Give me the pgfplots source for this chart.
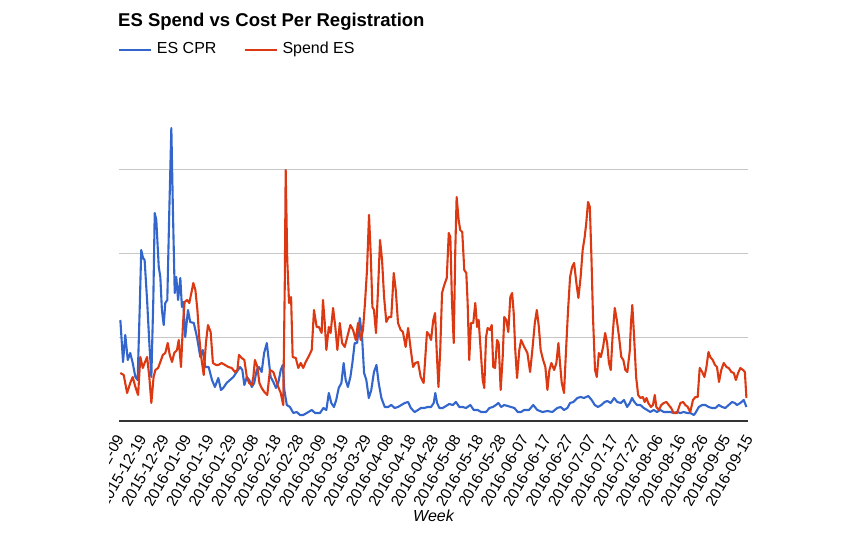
\documentclass[border=0pt]{standalone}
\usepackage{pgfplots}
\pgfplotsset{compat=1.18}
\usepackage{fontspec}
\setmainfont{Liberation Sans}
\definecolor{gblue}{HTML}{3366CC}
\definecolor{gred}{HTML}{DC3912}
\begin{document}
\begin{tikzpicture}
\useasboundingbox (0pt,0pt) rectangle (851pt,534pt);
\node[anchor=base west, inner sep=0pt, font=\fontsize{18.5}{22}\selectfont\bfseries] at (118pt,507pt) {ES Spend vs Cost Per Registration};
\begin{scope}
\clip (109.5pt,0pt) rectangle (851pt,534pt);
\begin{axis}[
  at={(119pt,113pt)}, anchor=south west,
  scale only axis, width=629pt, height=336pt,
  xmin=0, xmax=280, ymin=0, ymax=336,
  axis x line*=bottom, axis y line*=left,
  y axis line style={draw=none},
  x axis line style={draw=black!80, line width=1.3pt, -},
  ytick={84,168,252}, yticklabels={}, ymajorgrids,
  grid style={black!22, line width=0.9pt},
  major tick length=0pt,
  xtick={0,10,...,280},
  xticklabels={2015-12-09,2015-12-19,2015-12-29,2016-01-09,2016-01-19,2016-01-29,2016-02-08,2016-02-18,2016-02-28,2016-03-09,2016-03-19,2016-03-29,2016-04-08,2016-04-18,2016-04-28,2016-05-08,2016-05-18,2016-05-28,2016-06-07,2016-06-17,2016-06-27,2016-07-07,2016-07-17,2016-07-27,2016-08-06,2016-08-16,2016-08-26,2016-09-05,2016-09-15},
  x tick label style={xshift=1pt, yshift=-15pt, rotate=60, anchor=east, inner sep=0pt, font=\fontsize{15.5}{18}\selectfont},
  xlabel={Week},
  xlabel style={at={(axis description cs:0.5,-0.3006)}, anchor=base, inner sep=0pt, font=\fontsize{16}{19}\selectfont\itshape},
  legend style={at={(axis description cs:-0.002,1.1101)}, anchor=west, draw=none, fill=none, inner sep=0pt,
    font=\fontsize{16}{19}\selectfont, legend columns=-1,
    nodes={inner sep=0pt, anchor=base west},
    /tikz/every odd column/.append style={column sep=5pt},
    /tikz/every even column/.append style={column sep=27pt}},
  legend image code/.code={\draw[#1, line width=2pt] (0pt,0.34em) -- (32pt,0.34em);},
  every axis plot/.append style={line width=2.1pt, line join=round},
]
\addplot[gblue] coordinates {(0.6,101)(1.8,59)(2.8,86)(3.9,61)(5.0,68)(6.1,58)(7.3,44)(8.3,41)(9.2,111)(9.9,171)(10.7,163)(11.4,161)(12.5,121)(13.5,78)(14.4,44)(15.3,124)(15.9,208)(16.6,201)(17.7,154)(18.4,144)(19.1,111)(19.9,96)(20.6,118)(21.5,121)(22.4,211)(23.3,293)(24.0,211)(24.8,128)(25.5,144)(26.3,121)(27.3,143)(28.0,114)(28.6,119)(29.5,84)(30.7,111)(31.7,99)(33.3,98)(34.7,84)(36.2,64)(37.3,71)(38.4,54)(39.9,54)(41.4,41)(42.7,34)(44.2,43)(45.4,31)(46.4,33)(47.9,38)(49.4,41)(50.9,44)(52.4,49)(53.9,54)(54.9,51)(55.8,36)(56.9,44)(58.0,41)(59.1,34)(60.2,38)(61.3,51)(62.3,54)(63.5,49)(64.6,68)(65.8,78)(66.5,64)(67.5,44)(68.7,39)(69.9,33)(70.9,38)(72.0,51)(72.9,56)(73.6,31)(74.7,16)(76.1,14)(77.6,8)(79.1,9)(80.6,6)(82.0,6)(83.6,8)(85.8,11)(87.3,8)(89.5,8)(91.0,13)(92.3,11)(93.4,28)(94.5,18)(95.7,14)(96.7,21)(97.8,33)(99.0,38)(100.0,58)(100.9,41)(101.9,34)(103.0,44)(103.9,58)(104.9,78)(106.0,78)(107.2,103)(108.2,84)(109.1,48)(110.1,41)(111.2,23)(112.3,31)(113.5,49)(114.6,56)(115.6,38)(116.8,23)(118.3,14)(119.8,14)(121.2,16)(122.7,13)(124.2,14)(125.7,16)(127.2,18)(128.7,19)(129.9,13)(131.6,9)(133.1,11)(134.4,13)(135.9,13)(137.4,14)(138.9,14)(140.1,18)(140.8,28)(141.6,18)(142.6,13)(144.1,13)(145.6,15)(147.0,17)(148.6,16)(150.0,19)(151.5,14)(153.0,14)(154.5,13)(156.4,16)(157.9,11)(159.7,11)(161.2,9)(163.4,9)(164.9,13)(166.4,14)(167.8,16)(168.9,18)(170.1,14)(171.5,16)(173.0,15)(174.5,14)(176.0,13)(177.5,9)(179.0,9)(180.3,11)(182.5,11)(184.4,16)(186.2,11)(188.5,9)(190.7,10)(192.9,9)(195.1,13)(196.6,14)(198.1,11)(199.6,13)(200.8,18)(202.3,19)(204.0,23)(205.5,24)(207.0,23)(208.9,25)(210.4,21)(211.8,16)(213.2,14)(214.7,16)(216.2,19)(217.4,20)(218.9,18)(220.4,23)(221.8,19)(223.4,18)(224.8,21)(226.2,14)(227.4,18)(228.4,23)(229.4,19)(230.6,16)(232.1,16)(233.6,13)(235.1,11)(236.5,9)(238.0,11)(239.5,9)(241.0,11)(242.5,9)(244.0,9)(245.4,9)(246.9,8)(248.4,9)(249.9,8)(251.4,9)(252.9,8)(254.3,8)(255.9,6)(256.6,8)(258.1,14)(259.6,16)(261.0,16)(262.5,14)(264.0,13)(265.5,13)(267.0,16)(268.5,14)(269.9,13)(271.4,16)(272.9,19)(274.1,18)(275.1,16)(276.6,18)(278.1,21)(279.3,14)};
\addlegendentry{ES CPR}
\addplot[gred] coordinates {(0.6,48)(2.1,46)(3.6,28)(5.0,38)(6.1,44)(7.3,34)(8.5,26)(9.5,64)(10.6,53)(11.4,58)(12.5,64)(13.5,44)(14.4,18)(15.4,44)(16.2,51)(17.4,53)(18.4,59)(19.5,66)(20.6,68)(21.7,78)(22.6,66)(23.6,59)(24.6,68)(25.8,71)(26.6,81)(27.6,54)(28.5,98)(29.2,119)(30.3,121)(31.3,118)(32.2,128)(33.1,138)(34.0,131)(34.9,111)(35.7,84)(36.6,64)(37.7,46)(38.7,78)(39.6,96)(40.8,89)(41.8,58)(43.2,56)(44.2,56)(45.7,58)(47.2,56)(48.7,54)(50.2,53)(51.6,49)(52.7,51)(53.4,66)(54.6,63)(55.8,61)(56.9,44)(57.9,38)(59.1,36)(59.8,44)(60.5,61)(61.6,54)(62.5,38)(63.5,33)(64.7,29)(66.0,26)(67.2,51)(68.7,49)(69.9,41)(70.9,34)(72.0,28)(73.1,16)(73.8,138)(74.2,251)(74.9,161)(75.7,118)(76.6,124)(77.3,64)(78.7,63)(79.8,53)(80.9,58)(82.0,53)(83.1,59)(84.3,64)(85.8,71)(86.8,111)(88.0,94)(89.0,94)(90.2,88)(90.8,121)(91.6,98)(92.3,71)(93.4,94)(94.2,88)(95.3,113)(96.3,94)(97.2,71)(98.3,98)(99.3,78)(100.5,74)(101.6,84)(103.0,96)(104.2,91)(105.4,81)(106.4,98)(107.6,81)(108.6,91)(109.5,118)(110.4,151)(111.3,206)(112.1,164)(112.8,114)(113.5,111)(114.4,88)(115.3,131)(116.2,181)(117.1,161)(118.0,124)(119.0,99)(120.1,104)(121.2,104)(122.3,148)(123.2,131)(124.2,98)(125.4,91)(126.4,89)(127.6,74)(128.7,93)(129.9,71)(130.9,54)(131.9,58)(133.1,59)(134.3,44)(135.6,38)(137.1,89)(138.1,86)(138.9,81)(139.9,101)(140.7,108)(141.4,71)(142.2,34)(143.0,71)(143.8,128)(144.8,136)(145.9,143)(146.8,188)(147.5,184)(148.2,121)(149.0,78)(149.7,171)(150.3,224)(151.2,201)(151.9,191)(152.8,189)(153.7,151)(154.6,148)(155.2,118)(155.9,61)(156.7,98)(157.7,98)(158.6,118)(159.4,94)(160.1,101)(160.9,74)(161.9,41)(162.6,33)(163.4,84)(164.1,93)(165.2,91)(165.9,96)(166.6,54)(167.4,53)(168.3,81)(169.0,78)(169.9,31)(170.8,64)(171.5,104)(172.4,101)(173.3,89)(174.2,124)(175.0,128)(175.7,108)(176.4,71)(177.2,43)(178.2,71)(179.0,81)(180.4,74)(181.8,68)(183.0,49)(184.0,71)(185.1,98)(186.0,111)(186.9,94)(187.7,71)(188.8,61)(189.8,54)(190.7,31)(191.6,51)(192.5,58)(193.7,51)(194.7,58)(195.6,78)(196.3,58)(197.1,38)(198.1,28)(199.0,71)(199.9,111)(200.8,144)(201.7,154)(202.6,158)(203.6,138)(204.5,123)(205.5,144)(206.4,171)(207.3,184)(208.0,198)(208.8,219)(209.6,214)(210.3,164)(211.0,104)(211.9,51)(212.7,44)(213.6,68)(214.5,64)(215.5,74)(216.4,88)(217.3,78)(218.1,58)(218.9,51)(219.8,88)(220.7,113)(221.6,101)(222.6,84)(223.6,64)(224.5,61)(225.4,51)(226.3,49)(227.4,71)(227.9,98)(228.5,116)(229.3,84)(230.2,44)(231.1,26)(232.1,23)(233.2,24)(234.0,19)(234.8,23)(235.6,18)(236.8,14)(237.7,16)(238.5,26)(239.2,14)(240.3,11)(241.4,16)(242.5,18)(243.7,19)(244.7,16)(245.8,13)(246.9,8)(248.4,8)(249.9,18)(251.1,19)(252.1,16)(253.2,14)(254.3,9)(255.5,21)(256.6,24)(257.6,24)(258.5,53)(259.6,49)(260.6,44)(261.5,54)(262.4,69)(263.2,64)(264.3,61)(265.3,56)(266.2,54)(267.1,39)(268.1,51)(269.2,58)(270.4,54)(271.4,53)(272.6,49)(273.7,48)(274.6,41)(275.6,48)(276.6,53)(277.8,51)(278.6,49)(279.3,23)};
\addlegendentry{Spend ES}
\end{axis}
\end{scope}
\end{tikzpicture}
\end{document}
